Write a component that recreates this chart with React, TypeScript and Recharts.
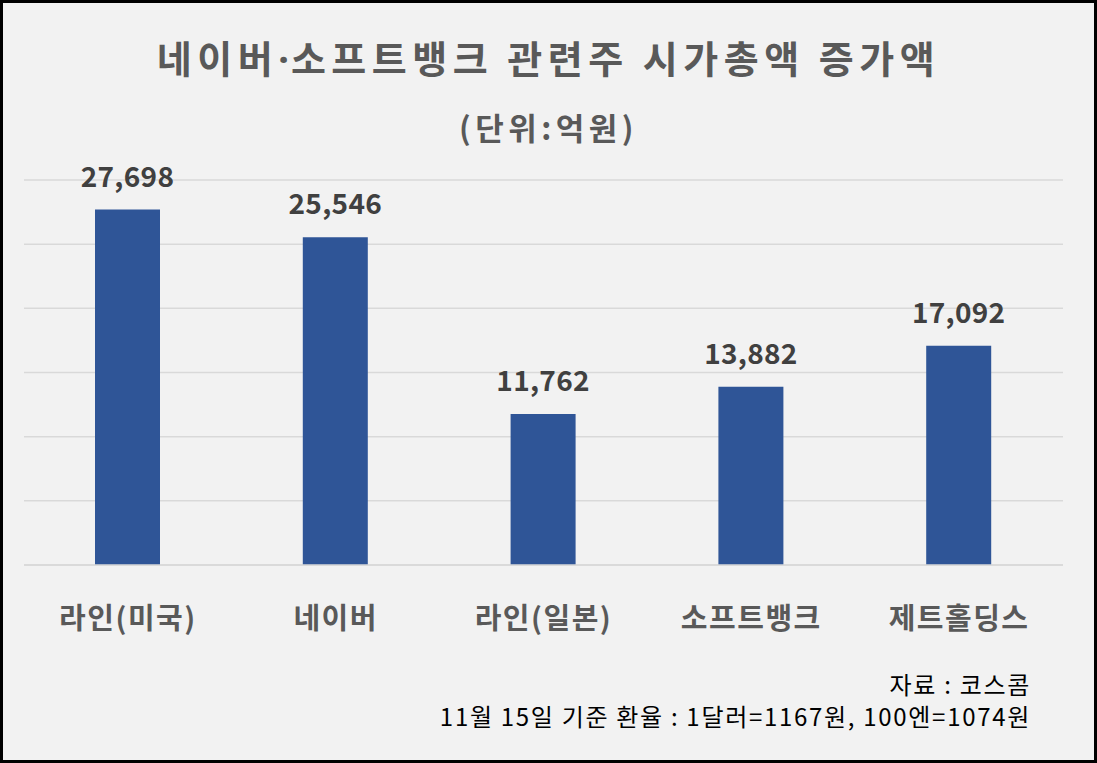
import React from "react";
import { BarChart, Bar, XAxis, YAxis, CartesianGrid, LabelList } from "recharts";

const categories = ["라인(미국)", "네이버", "라인(일본)", "소프트뱅크", "제트홀딩스"];
const values = [27698, 25546, 11762, 13882, 17092];
const yTicks = [0, 5000, 10000, 15000, 20000, 25000, 30000];
const titleParts = ["네이버", "·", "소프트뱅크 관련주 시가총액 증가액"];
const subtitleText = "(단위:억원)";
const notes = ["자료 : 코스콤", "11월 15일 기준 환율 : 1달러=1167원, 100엔=1074원"];

const data = categories.map((name, i) => ({ name, value: values[i] }));

const FONT = "'Noto Sans CJK KR', 'Noto Sans', sans-serif";

export default function App() {
  return (
    <div
      style={{
        position: "fixed",
        left: 0,
        top: 0,
        width: 1097,
        height: 763,
        background: "#f2f2f2",
        fontFamily: FONT,
        overflow: "hidden",
      }}
    >
      <div
        style={{
          position: "absolute",
          left: 0,
          top: 32,
          width: 1097,
          textAlign: "center",
          fontSize: 38,
          fontWeight: 700,
          color: "#595959",
          lineHeight: "50px",
          letterSpacing: 5.5,
        }}
      >
        {titleParts[0]}
        <span style={{ fontFamily: "'Noto Sans', sans-serif", letterSpacing: 2 }}>{titleParts[1]}</span>
        {titleParts[2]}
      </div>
      <div
        style={{
          position: "absolute",
          left: 0,
          top: 105,
          width: 1097,
          textAlign: "center",
          fontSize: 31,
          fontWeight: 700,
          color: "#595959",
          lineHeight: "44px",
          letterSpacing: 4.5,
        }}
      >
        {subtitleText}
      </div>
      <div style={{ position: "absolute", left: 0, top: 0 }}>
        <BarChart
          width={1097}
          height={763}
          data={data}
          margin={{ top: 180, right: 34, left: 24, bottom: 168 }}
          barSize={65}
        >
          <CartesianGrid vertical={false} stroke="#d9d9d9" strokeWidth={1.5} />
          <YAxis hide domain={[0, 30000]} ticks={yTicks} />
          <XAxis
            dataKey="name"
            height={30}
            axisLine={{ stroke: "#d9d9d9", strokeWidth: 1.5 }}
            tickLine={false}
            interval={0}
            tick={{ fill: "#595959", fontSize: 29, fontWeight: 700, fontFamily: FONT, letterSpacing: 1.5 }}
            tickMargin={37}
          />
          <Bar dataKey="value" fill="#2f5597" isAnimationActive={false}>
            <LabelList
              dataKey="value"
              position="top"
              offset={23}
              formatter={(v: number) => v.toLocaleString("en-US")}
              style={{ fill: "#404040", fontSize: 28, fontWeight: 700, fontFamily: FONT, letterSpacing: 0.3 }}
            />
          </Bar>
        </BarChart>
      </div>
      <div
        style={{
          position: "absolute",
          right: 66,
          top: 668,
          textAlign: "right",
          fontSize: 24,
          color: "#000",
          lineHeight: "32px",
          letterSpacing: 1.7,
        }}
      >
        {notes.map((n) => (
          <div key={n}>{n}</div>
        ))}
      </div>
      <div
        style={{
          position: "absolute",
          left: 0,
          top: 0,
          width: 1097,
          height: 763,
          boxSizing: "border-box",
          border: "3px solid #000",
          pointerEvents: "none",
        }}
      />
    </div>
  );
}
